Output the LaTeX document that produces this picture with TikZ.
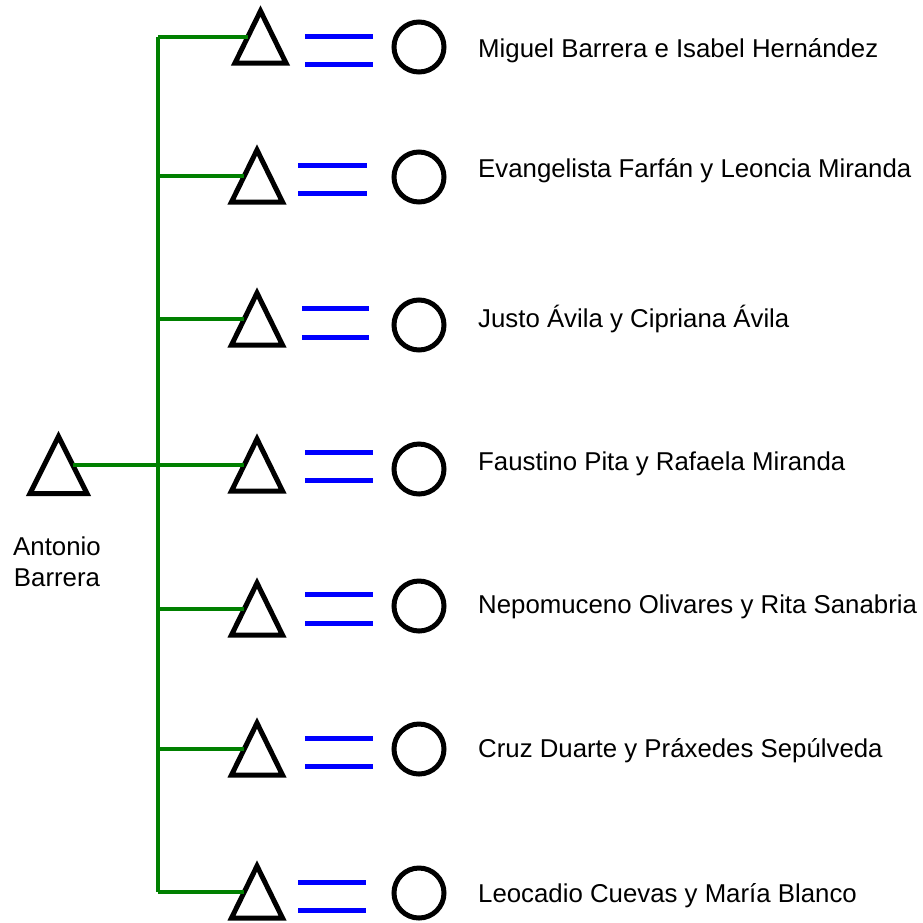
\documentclass[tikz,border=0pt]{standalone}
\usepackage{fontspec}
\setmainfont{Liberation Sans}
\usetikzlibrary{shapes.geometric}
\definecolor{lgreen}{RGB}{0,128,0}
\definecolor{lblue}{RGB}{0,0,255}
\tikzset{
  tri/.style={draw=black, line width=5pt, shape=isosceles triangle, shape border rotate=90,
    isosceles triangle stretches, minimum width=51pt, minimum height=52pt,
    inner sep=0pt, outer sep=0pt, anchor=apex},
  bigtri/.style={tri, minimum width=57pt, minimum height=57pt},
  circ/.style={draw=black, line width=5pt, circle, minimum size=50pt, inner sep=0pt, outer sep=0pt},
  gline/.style={draw=lgreen, line width=4.3pt},
  bline/.style={draw=lblue, line width=5pt},
  couplelbl/.style={anchor=base west, inner sep=0pt, font=\fontsize{25.8}{31}\selectfont},
  perslbl/.style={anchor=base, inner sep=0pt, align=center, font=\fontsize{25.8}{31}\selectfont}
}
\begin{document}
\begin{tikzpicture}[x=1pt, y=-1pt]
\useasboundingbox (0,0) rectangle (923,922);
% left person
\node[bigtri] (lt) at (58.5,436.5) {};
\node[perslbl] (ant) at (57,586) {Antonio\\Barrera};
% triangles
\node[tri] (t1) at (260.5,11) {};
\node[tri] (t2) at (257,150) {};
\node[tri] (t3) at (257,293) {};
\node[tri] (t4) at (257,439) {};
\node[tri] (t5) at (257,583) {};
\node[tri] (t6) at (257,723) {};
\node[tri] (t7) at (257,866) {};
% circles
\node[circ] (c1) at (419,47) {};
\node[circ] (c2) at (419,177) {};
\node[circ] (c3) at (419,325) {};
\node[circ] (c4) at (419,469) {};
\node[circ] (c5) at (419,606) {};
\node[circ] (c6) at (419,749) {};
\node[circ] (c7) at (419,893) {};
% names
\node[couplelbl] (n1) at (478,57) {Miguel Barrera e Isabel Hernández};
\node[couplelbl] (n2) at (478,177) {Evangelista Farfán y Leoncia Miranda};
\node[couplelbl] (n3) at (478,327) {Justo Ávila y Cipriana Ávila};
\node[couplelbl] (n4) at (478,470) {Faustino Pita y Rafaela Miranda};
\node[couplelbl] (n5) at (478,613) {Nepomuceno Olivares y Rita Sanabria};
\node[couplelbl] (n6) at (478,757) {Cruz Duarte y Práxedes Sepúlveda};
\node[couplelbl] (n7) at (478,902) {Leocadio Cuevas y María Blanco};
% green bus
\coordinate (bx) at (158,0);
\draw[gline] (t1.left side -| bx) -- (t7.left side -| bx);
\foreach \i in {1,2,3,5,6,7}{
  \draw[gline] (t\i.left side -| bx) -- (t\i.left side);
}
\draw[gline] (lt.right side) -- (t4.left side);
% blue marriage lines
\foreach \xa/\xb/\ya/\yb in {305/373/36/64, 298/367/165/193, 302/369/308/337, 305/373/452/480, 305/373/594/623, 305/373/738/766, 298/366/882/910}{
  \draw[bline] (\xa,\ya) -- (\xb,\ya);
  \draw[bline] (\xa,\yb) -- (\xb,\yb);
}
\end{tikzpicture}
\end{document}
